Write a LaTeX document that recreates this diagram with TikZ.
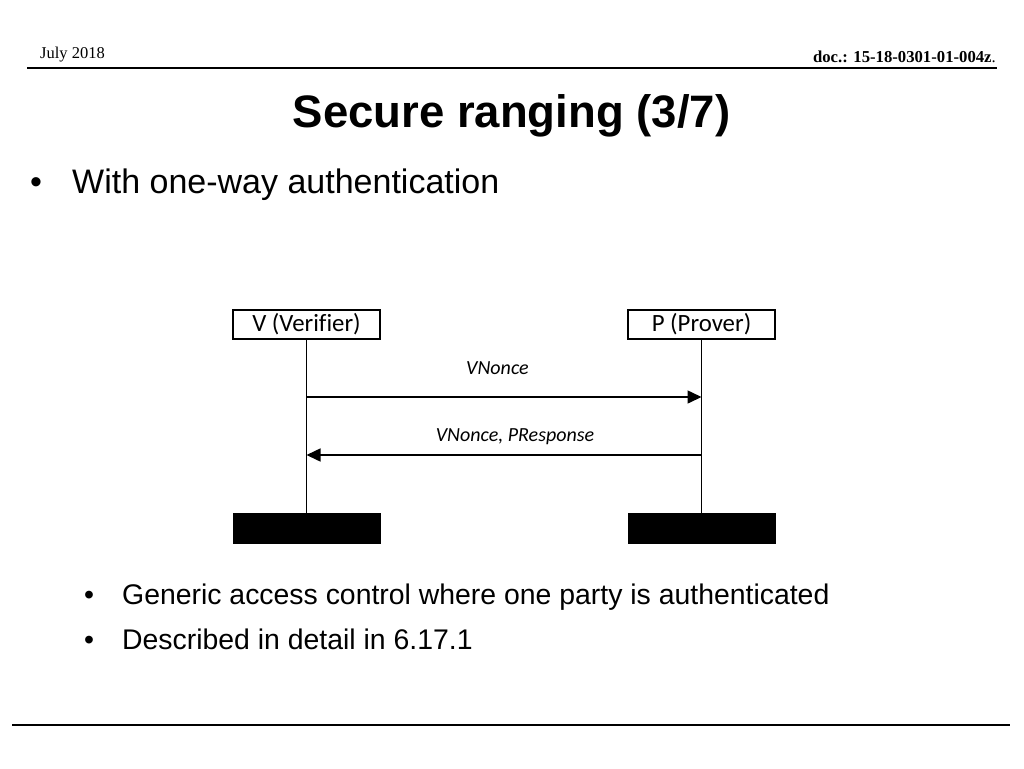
\documentclass[tikz,border=0pt]{standalone}
\usepackage{fontspec}
\setmainfont{Liberation Sans}
\newfontfamily\hdrfont{Liberation Serif}
\newfontfamily\diafont[Ligatures=NoCommon]{Carlito}
\usetikzlibrary{arrows.meta}
\begin{document}
\begin{tikzpicture}[x=1pt,y=-1pt,
  actor/.style={draw=black,line width=1.2pt,minimum width=147pt,minimum height=29pt,inner sep=0pt,font=\diafont\fontsize{24.8}{28}\selectfont},
  endbar/.style={fill=black,draw=black,minimum width=147pt,minimum height=30pt,inner sep=0pt},
  life/.style={line width=1.5pt},
  msg/.style={line width=1.5pt,-{Triangle[length=14pt,width=13pt]}},
  msglabel/.style={anchor=base,font=\diafont\itshape\fontsize{20}{24}\selectfont,inner sep=0pt},
  rule/.style={line width=1.6pt}]
\useasboundingbox (0,0) rectangle (1024,768);
% header
\node[anchor=base west,inner sep=0pt,font=\hdrfont\fontsize{16.5}{20}\selectfont] (date) at (40,59) {July 2018};
\node[anchor=base east,inner sep=0pt,font=\hdrfont\fontsize{16.7}{20}\selectfont] (doc) at (996,63) {\textbf{doc.: 15-18-0301-01-004z}.};
\coordinate (hl) at (27,68);
\coordinate (hr) at (997,68);
\draw[rule] (hl) -- (hr);
% title
\node[anchor=base,inner sep=0pt,font=\bfseries\fontsize{45.5}{50}\selectfont] (title) at (511.5,127) {Secure ranging (3/7)};
% main bullet
\node[anchor=base west,inner sep=0pt,font=\fontsize{34}{40}\selectfont] (b1) at (30,193) {•};
\node[anchor=base west,inner sep=0pt,font=\fontsize{34}{40}\selectfont] (t1) at (72,193) {With one-way authentication};
% diagram
\node[actor] (V) at (306.5,324.5) {V (Verifier)};
\node[actor] (P) at (701.5,324.5) {P (Prover)};
\node[endbar] (VE) at (306.5,528) {};
\node[endbar] (PE) at (701.5,528) {};
\draw[life] (V.south) -- (VE.north);
\draw[life] (P.south) -- (PE.north);
\coordinate (v1) at (306.5,397);
\coordinate (p1) at (701.5,397);
\coordinate (v2) at (306.5,455);
\coordinate (p2) at (701.5,455);
\draw[msg] (v1) -- (p1);
\draw[msg] (p2) -- (v2);
\node[msglabel] (l1) at (497.5,374) {VNonce};
\node[msglabel] (l2) at (515,441.5) {VNonce, PResponse};
% sub bullets
\node[anchor=base west,inner sep=0pt,font=\fontsize{28.4}{34}\selectfont] (b2) at (84,604) {•};
\node[anchor=base west,inner sep=0pt,font=\fontsize{28.4}{34}\selectfont] (t2) at (122,604) {Generic access control where one party is authenticated};
\node[anchor=base west,inner sep=0pt,font=\fontsize{28.4}{34}\selectfont] (b3) at (84,649) {•};
\node[anchor=base west,inner sep=0pt,font=\fontsize{28.4}{34}\selectfont] (t3) at (122,649) {Described in detail in 6.17.1};
% footer rule
\coordinate (fl) at (12,725);
\coordinate (fr) at (1010,725);
\draw[line width=2pt] (fl) -- (fr);
\end{tikzpicture}
\end{document}
